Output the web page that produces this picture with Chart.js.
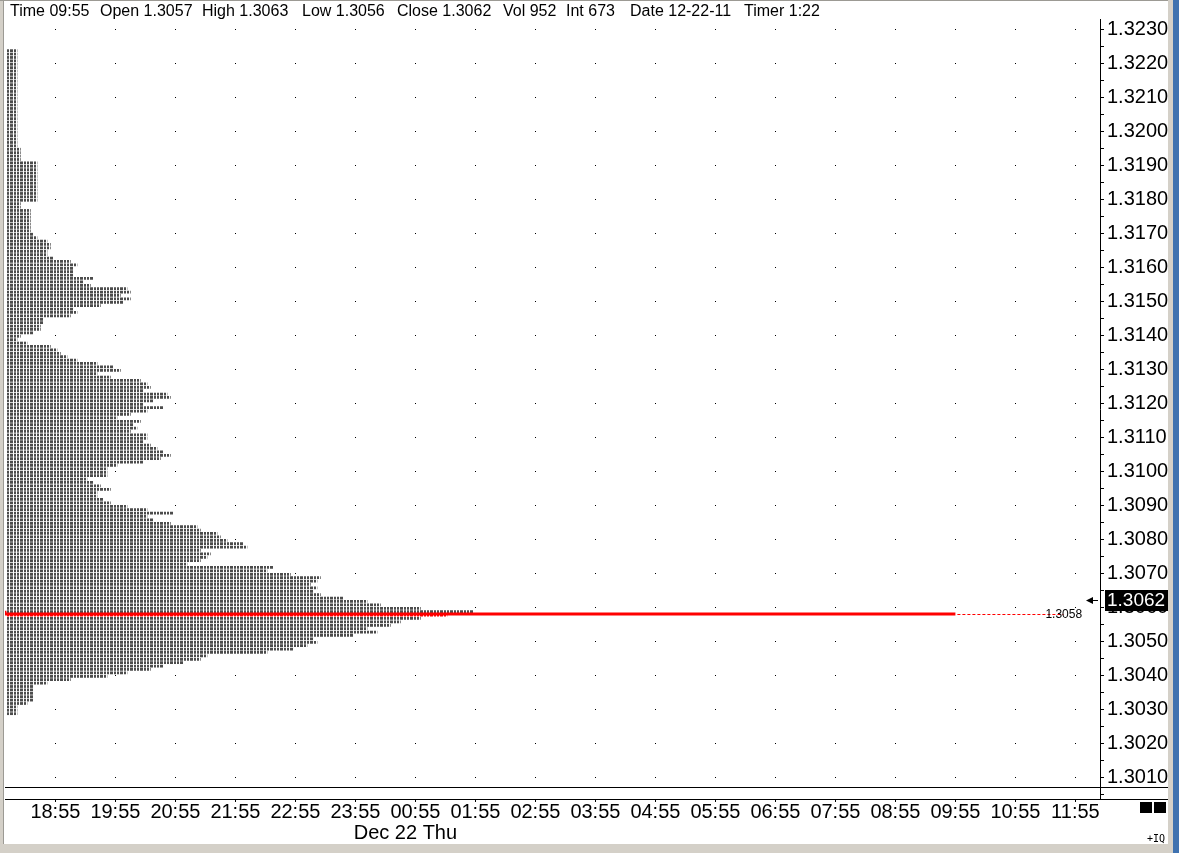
<!DOCTYPE html>
<html>
<head>
<meta charset="utf-8">
<script src="https://cdn.jsdelivr.net/npm/chart.js@4.4.0/dist/chart.umd.min.js"></script>
<style>
  html, body { margin: 0; padding: 0; background: #fff; overflow: hidden; }
  canvas { display: block; }
</style>
</head>
<body>
<canvas id="profile" width="1179" height="853"></canvas>
<script>
// header quote line
const headerItems = ["Time 09:55", "Open 1.3057", "High 1.3063", "Low 1.3056", "Close 1.3062",
  "Vol 952", "Int 673", "Date 12-22-11", "Timer 1:22"];

// hourly time axis (hours after 18:55)
const timeLabels = ["18:55", "19:55", "20:55", "21:55", "22:55", "23:55", "00:55", "01:55", "02:55",
  "03:55", "04:55", "05:55", "06:55", "07:55", "08:55", "09:55", "10:55", "11:55"];
const dateLabel = "Dec 22 Thu";

// price ticks: every 0.0005, labels on every 0.0010
const priceTicks = [];
for (let t = 13005; t <= 13230; t += 5) priceTicks.push(t / 10000);

// market profile: TPO count per price, from 1.3224 down to 1.3029
const topPrice = 1.3224;
const tpoCounts = [
  3, 3, 3, 3, 3, 3, 3, 3, 3, 3, 3, 3, 3, 3, 3, 3, 3, 3, 3, 3, 3, 3, 3, 3, 3, 3, 3, 3, 3,
  4, 4, 4, 4,
  9, 9, 9, 9, 9, 9, 9, 9, 9, 9, 9, 9,
  4, 4,
  7, 7, 7, 7, 7, 7, 7,
  8, 9, 12, 13, 13, 12, 12, 14, 19, 21, 20, 20, 20, 26, 23, 25, 36, 37, 34, 37, 35, 28,
  20, 21, 19, 11, 11, 10, 10, 8, 4, 3, 6, 13, 15, 16, 18, 21, 27, 32, 34, 27, 31, 40,
  42, 43, 41, 48, 49, 44, 41, 47, 42, 37, 33, 40, 38, 39, 37, 42, 42, 41, 43, 45, 47,
  49, 46, 41, 33, 30, 30, 30, 24, 26, 28, 31, 27, 27, 29, 31, 36, 42, 50, 42, 44, 49,
  57, 58, 63, 64, 66, 71, 72, 58, 61, 60, 58, 54, 80, 78, 85, 94, 93, 91, 93, 92, 94,
  101, 108, 112, 124, 140, 132, 124, 118, 115, 108, 111, 104, 92, 93, 90, 86, 78, 60,
  58, 53, 47, 43, 36, 30, 19, 12,
  8, 8, 8, 8, 8, 6, 3, 3, 3
];
const profilePrices = tpoCounts.map((c, i) => +(topPrice - i * 0.0001).toFixed(4));

// developing point of control (time in hours after 18:55)
const pocTimes = [-0.84, 2.28, 15];
const pocPrices = [1.3059, 1.3058, 1.3058];
const pocPrice = 1.3058;
const lastClose = 1.3062;

const FONT = '"Liberation Sans", Arial, sans-serif';

function tpoPattern(color) {
  const c = document.createElement("canvas");
  c.width = 10; c.height = 4;
  const g = c.getContext("2d");
  g.fillStyle = color;
  g.fillRect(0, 0, 2, 4);
  g.fillRect(3, 0, 3, 4);
  g.fillRect(7, 0, 2, 4);
  const p = g.createPattern(c, "repeat");
  p.setTransform(new DOMMatrix().translate(7, 0));
  return p;
}
const grayTpo = tpoPattern("#4c4c4c");
const redTpo = tpoPattern("#ff0000");

const chrome = {
  id: "chrome",
  beforeDatasetsDraw(chart) {
    const { ctx, scales: { x, y } } = chart;
    ctx.save();
    ctx.fillStyle = "#000";
    priceTicks.forEach(p => {
      if (Math.round(p * 10000) % 10 !== 0) return;
      const py = Math.round(y.getPixelForValue(p));
      timeLabels.forEach((t, i) => {
        ctx.fillRect(Math.round(x.getPixelForValue(i)), py, 1, 1);
      });
    });
    ctx.restore();
  },
  afterDatasetsDraw(chart) {
    const { ctx, scales: { x, y } } = chart;
    const x0 = x.getPixelForValue(pocTimes[pocTimes.length - 1]);
    const py = y.getPixelForValue(pocPrice);
    ctx.save();
    ctx.strokeStyle = "#ff0000";
    ctx.lineWidth = 1;
    ctx.setLineDash([3, 2]);
    ctx.beginPath();
    ctx.moveTo(x0 + 2, Math.round(py) + 0.5);
    ctx.lineTo(x0 + 108, Math.round(py) + 0.5);
    ctx.stroke();
    ctx.setLineDash([]);
    ctx.fillStyle = "#000";
    ctx.font = "12px " + FONT;
    ctx.textBaseline = "middle";
    ctx.fillText(pocPrice.toFixed(4), x0 + 90, py + 1);
    ctx.restore();
  },
  afterDraw(chart) {
    const { ctx, chartArea: a, scales: { x, y } } = chart;
    const W = chart.width, H = chart.height;
    ctx.save();
    // header
    ctx.fillStyle = "#000";
    ctx.font = "16px " + FONT;
    ctx.textBaseline = "middle";
    const hx = [10, 100, 202, 302, 397, 503, 566, 630, 744];
    headerItems.forEach((s, i) => ctx.fillText(s, hx[i], 12));
    // pane separator and time axis line
    ctx.fillRect(a.left, Math.round(a.bottom) - 12, 1168 - a.left, 1);
    ctx.fillRect(a.left, Math.round(a.bottom), 1168 - a.left, 1);
    // date under the midnight session
    ctx.font = "20px " + FONT;
    ctx.textAlign = "center";
    ctx.fillText(dateLabel, x.getPixelForValue(6) - 10, 833);
    // last price marker
    const cy = Math.round(y.getPixelForValue(lastClose));
    ctx.fillRect(a.right + 5, cy - 10, 63, 21);
    ctx.fillStyle = "#fff";
    ctx.textAlign = "left";
    ctx.font = "19px " + FONT;
    ctx.fillText(lastClose.toFixed(4), a.right + 7, cy + 1);
    ctx.fillStyle = "#000";
    ctx.fillRect(a.right - 12, cy, 10, 1);
    ctx.beginPath();
    ctx.moveTo(a.right - 14, cy + 0.5);
    ctx.lineTo(a.right - 7, cy - 3);
    ctx.lineTo(a.right - 7, cy + 4);
    ctx.closePath();
    ctx.fill();
    // corner widgets
    ctx.fillRect(1140, 802, 12, 11);
    ctx.fillRect(1154, 802, 12, 11);
    ctx.font = "10px \"DejaVu Sans Mono\", monospace";
    ctx.fillText("+IQ", 1147, 839);
    // window frame
    ctx.fillStyle = "#d4d0c8";
    ctx.fillRect(0, 0, 4, H);
    ctx.fillRect(1168, 0, 5, H);
    ctx.fillRect(0, 844, W, H - 844);
    ctx.fillStyle = "#9c9a94";
    ctx.fillRect(3, 0, 1, 844);
    ctx.fillRect(0, 0, 1168, 1);
    ctx.fillStyle = "#3f72b0";
    ctx.fillRect(1173, 0, W - 1173, H);
    ctx.restore();
  }
};

new Chart("profile", {
  type: "line",
  data: {
    datasets: [
      {
        type: "line",
        label: "POC",
        data: pocTimes.map((t, i) => ({ x: t, y: pocPrices[i] })),
        xAxisID: "x",
        yAxisID: "y",
        borderColor: "#ff0000",
        borderWidth: 3,
        pointRadius: 0,
        stepped: "after",
        order: 0,
      },
      {
        type: "bar",
        label: "TPO",
        indexAxis: "y",
        data: profilePrices.map((p, i) => ({ x: tpoCounts[i], y: p })),
        xAxisID: "xp",
        yAxisID: "y",
        backgroundColor: (c) => profilePrices[c.dataIndex] === pocPrice ? redTpo : grayTpo,
        borderWidth: 0,
        barThickness: 2.1,
        order: 1,
      },
    ],
  },
  options: {
    responsive: false,
    animation: false,
    devicePixelRatio: 1,
    events: [],
    layout: { padding: { left: 5, top: 19, right: 0, bottom: 0 } },
    plugins: { legend: { display: false }, tooltip: { enabled: false } },
    scales: {
      x: {
        type: "linear",
        position: "bottom",
        offset: false,
        min: -0.84,
        max: 17.41,
        afterBuildTicks: (s) => { s.ticks = timeLabels.map((t, i) => ({ value: i })); },
        afterFit: (s) => { s.height = 54; },
        ticks: {
          autoSkip: false,
          maxRotation: 0,
          padding: 0,
          color: "#000",
          font: { family: FONT, size: 20, lineHeight: 1 },
          callback: (v, i) => timeLabels[i],
        },
        grid: { drawOnChartArea: false, tickLength: 3, color: "#000", offset: false },
        border: { display: false },
      },
      xp: { type: "linear", display: false, offset: false, min: -0.6, max: 327.9 },
      y: {
        type: "linear",
        position: "right",
        offset: false,
        min: 1.30036,
        max: 1.3233,
        afterBuildTicks: (s) => { s.ticks = priceTicks.map(v => ({ value: v })); },
        afterFit: (s) => { s.width = 79; },
        ticks: {
          autoSkip: false,
          padding: 3,
          color: "#000",
          font: { family: FONT, size: 20 },
          callback: (v) => Math.round(v * 10000) % 10 === 0 ? v.toFixed(4) : "",
        },
        grid: { drawOnChartArea: false, tickLength: 4, color: "#000", offset: false },
        border: { display: true, color: "#000" },
      },
    },
  },
  plugins: [chrome],
});
</script>
</body>
</html>
